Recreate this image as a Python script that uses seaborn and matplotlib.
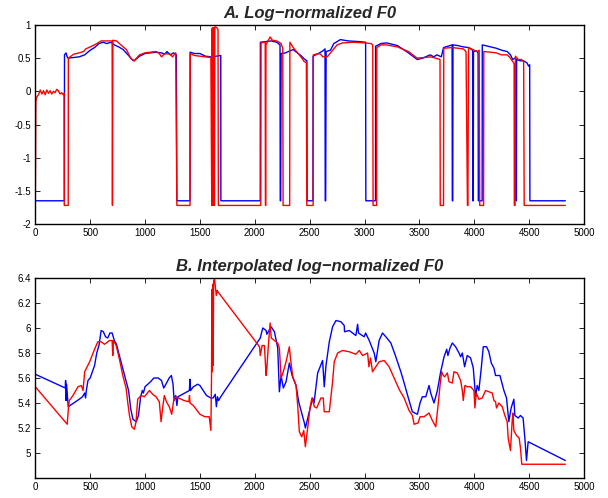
import matplotlib
matplotlib.use("Agg")
import matplotlib.pyplot as plt
import seaborn as sns

# ---------------- data ----------------
# Panel A: log-normalized F0, blue series
a_blue_x = [0, 265, 266, 280, 290, 300, 350, 400, 450, 500,
            540, 580, 620, 650, 690, 720, 760, 800, 850, 880,
            900, 950, 1000, 1050, 1100, 1150, 1180, 1200, 1230, 1260,
            1285, 1290, 1410, 1411, 1450, 1500, 1550, 1600, 1650, 1690,
            1691, 2050, 2051, 2100, 2150, 2200, 2230, 2232, 2236, 2240,
            2280, 2320, 2350, 2380, 2420, 2450, 2475, 2477, 2530, 2531,
            2580, 2620, 2640, 2642, 2646, 2650, 2690, 2720, 2780, 2850,
            2950, 3010, 3012, 3100, 3101, 3150, 3200, 3300, 3400, 3480,
            3530, 3570, 3600, 3630, 3660, 3700, 3720, 3780, 3798, 3800,
            3804, 3806, 3850, 3900, 3950, 3985, 3987, 3991, 3993, 4020,
            4035, 4037, 4072, 4073, 4100, 4150, 4200, 4250, 4300, 4330,
            4350, 4370, 4378, 4380, 4384, 4386, 4420, 4450, 4480, 4495,
            4505, 4507, 4830]
a_blue_y = [-1.65, -1.65, 0.55, 0.58, 0.52, 0.50, 0.51, 0.52, 0.55, 0.62,
            0.66, 0.72, 0.74, 0.72, 0.74, 0.70, 0.67, 0.63, 0.54, 0.48,
            0.46, 0.53, 0.57, 0.58, 0.59, 0.58, 0.56, 0.60, 0.55, 0.58,
            0.55, -1.65, -1.65, 0.59, 0.57, 0.57, 0.53, 0.52, 0.53, 0.54,
            -1.65, -1.65, 0.74, 0.75, 0.76, 0.74, 0.70, -1.65, -1.65, 0.57,
            0.58, 0.61, 0.63, 0.59, 0.54, 0.49, 0.46, -1.65, -1.65, 0.53,
            0.57, 0.61, 0.64, -1.65, -1.65, 0.60, 0.62, 0.72, 0.78, 0.76,
            0.75, 0.74, -1.65, -1.65, 0.68, 0.72, 0.73, 0.69, 0.58, 0.48,
            0.50, 0.53, 0.55, 0.52, 0.55, 0.52, 0.66, 0.69, 0.70, -1.65,
            -1.65, 0.70, 0.69, 0.67, 0.66, 0.62, -1.65, -1.65, 0.60, 0.61,
            0.58, -1.65, -1.65, 0.70, 0.69, 0.67, 0.65, 0.62, 0.60, 0.55,
            0.48, 0.50, 0.49, -1.65, -1.65, 0.48, 0.46, 0.46, 0.43, 0.38,
            0.40, -1.65, -1.65]

# Panel A: red series
a_red_x = [0, 5, 15, 30, 45, 60, 75, 90, 105, 120,
           135, 150, 165, 180, 195, 210, 225, 240, 255, 262,
           264, 300, 301, 350, 400, 440, 460, 500, 550, 600,
           650, 700, 703, 707, 740, 780, 830, 870, 900, 950,
           1000, 1050, 1100, 1130, 1150, 1180, 1230, 1250, 1280, 1290,
           1410, 1412, 1450, 1500, 1550, 1600, 1608, 1612, 1616, 1620,
           1624, 1628, 1632, 1636, 1640, 1655, 1665, 1668, 2055, 2057,
           2080, 2095, 2097, 2100, 2102, 2120, 2140, 2160, 2200, 2240,
           2255, 2258, 2318, 2320, 2350, 2380, 2420, 2450, 2470, 2474,
           2532, 2534, 2580, 2600, 2620, 2660, 2700, 2750, 2800, 2900,
           3000, 3060, 3075, 3078, 3110, 3112, 3150, 3200, 3300, 3400,
           3480, 3550, 3600, 3650, 3688, 3690, 3720, 3722, 3800, 3900,
           3925, 3938, 3942, 3948, 4000, 4030, 4045, 4050, 4085, 4087,
           4150, 4200, 4250, 4300, 4320, 4350, 4363, 4365, 4372, 4375,
           4400, 4430, 4450, 4455, 4830]
a_red_y = [-1.72, -0.15, -0.08, -0.05, 0.02, -0.04, 0.01, -0.05, 0.02, -0.03,
           0.01, -0.04, 0.00, -0.02, 0.03, 0.01, -0.04, -0.02, -0.05, -0.03,
           -1.72, -1.72, 0.50, 0.56, 0.58, 0.60, 0.64, 0.67, 0.71, 0.76,
           0.76, 0.76, -1.72, 0.77, 0.76, 0.70, 0.63, 0.50, 0.46, 0.55,
           0.58, 0.59, 0.60, 0.57, 0.52, 0.57, 0.56, 0.52, 0.58, -1.72,
           -1.72, 0.57, 0.54, 0.53, 0.52, 0.51, -1.72, 0.95, -1.72, 0.96,
           -1.72, 0.96, -1.72, 0.97, 0.97, 0.96, 0.93, -1.72, -1.72, 0.73,
           0.74, 0.74, -1.72, -1.72, 0.70, 0.76, 0.82, 0.77, 0.76, 0.72,
           0.65, -1.72, -1.72, 0.74, 0.66, 0.60, 0.52, 0.45, 0.43, -1.72,
           -1.72, 0.55, 0.57, 0.56, 0.52, 0.52, 0.60, 0.70, 0.73, 0.74,
           0.73, 0.72, 0.70, -1.72, -1.72, 0.66, 0.70, 0.70, 0.67, 0.60,
           0.50, 0.51, 0.52, 0.50, 0.48, -1.72, -1.72, 0.65, 0.66, 0.64,
           0.60, -1.72, -1.72, 0.66, 0.62, 0.60, 0.62, -1.72, -1.72, 0.60,
           0.59, 0.58, 0.55, 0.55, 0.52, 0.45, 0.42, -1.72, -1.72, 0.53,
           0.48, 0.48, 0.45, -1.72, -1.72]

# Panel B: interpolated log-normalized F0, blue series
b_blue_x = [0, 273, 276, 280, 285, 300, 350, 400, 430, 450,
            458, 465, 480, 500, 540, 560, 580, 600, 620, 640,
            660, 680, 700, 720, 740, 760, 790, 820, 850, 870,
            890, 920, 940, 960, 975, 985, 1000, 1050, 1080, 1120,
            1150, 1170, 1190, 1220, 1240, 1255, 1265, 1280, 1290, 1300,
            1404, 1410, 1415, 1440, 1480, 1500, 1530, 1560, 1600, 1620,
            1640, 1650, 1660, 1670, 1690, 2050, 2073, 2103, 2110, 2149,
            2179, 2209, 2224, 2240, 2260, 2285, 2315, 2340, 2376, 2400,
            2452, 2461, 2497, 2527, 2540, 2573, 2618, 2633, 2649, 2679,
            2709, 2740, 2785, 2815, 2818, 2861, 2921, 2937, 2945, 2997,
            3010, 3043, 3088, 3103, 3133, 3164, 3194, 3240, 3285, 3331,
            3361, 3406, 3436, 3482, 3506, 3527, 3558, 3588, 3603, 3633,
            3664, 3694, 3725, 3749, 3760, 3779, 3800, 3830, 3861, 3876,
            3891, 3912, 3936, 3967, 3991, 4012, 4027, 4042, 4064, 4082,
            4112, 4133, 4155, 4179, 4194, 4234, 4270, 4294, 4315, 4336,
            4361, 4370, 4400, 4421, 4445, 4461, 4476, 4491, 4830]
b_blue_y = [5.63, 5.52, 5.58, 5.42, 5.55, 5.37, 5.40, 5.43, 5.45, 5.48,
            5.44, 5.50, 5.58, 5.60, 5.70, 5.80, 5.86, 5.98, 5.97, 5.93,
            5.92, 5.96, 5.96, 5.90, 5.87, 5.80, 5.70, 5.60, 5.50, 5.35,
            5.27, 5.25, 5.30, 5.45, 5.50, 5.48, 5.53, 5.57, 5.60, 5.60,
            5.58, 5.52, 5.55, 5.60, 5.62, 5.55, 5.42, 5.46, 5.38, 5.45,
            5.50, 5.59, 5.50, 5.53, 5.55, 5.54, 5.50, 5.46, 5.44, 5.44,
            5.47, 5.37, 5.45, 5.42, 5.45, 5.92, 6.00, 5.98, 5.95, 6.01,
            5.97, 5.84, 5.49, 5.62, 5.52, 5.57, 5.72, 5.62, 5.54, 5.41,
            5.24, 5.20, 5.33, 5.44, 5.40, 5.64, 5.74, 5.53, 5.70, 5.89,
            6.01, 6.06, 6.05, 6.02, 5.97, 5.98, 5.94, 6.03, 5.96, 5.93,
            5.96, 5.90, 5.80, 5.73, 5.90, 5.96, 5.93, 5.88, 5.77, 5.65,
            5.56, 5.42, 5.33, 5.31, 5.40, 5.45, 5.45, 5.54, 5.48, 5.40,
            5.50, 5.65, 5.77, 5.83, 5.78, 5.84, 5.88, 5.85, 5.80, 5.77,
            5.80, 5.69, 5.78, 5.76, 5.68, 5.45, 5.54, 5.50, 5.68, 5.85,
            5.85, 5.81, 5.72, 5.68, 5.62, 5.62, 5.50, 5.44, 5.25, 5.36,
            5.43, 5.30, 5.28, 5.30, 5.28, 5.12, 4.94, 5.09, 4.94]

# Panel B: red series
b_red_x = [0, 291, 303, 310, 343, 389, 420, 435, 450, 495,
           540, 570, 600, 631, 676, 700, 706, 712, 737, 767,
           797, 827, 843, 858, 879, 903, 918, 933, 964, 994,
           1040, 1070, 1100, 1130, 1146, 1160, 1176, 1195, 1221, 1243,
           1261, 1280, 1355, 1400, 1405, 1410, 1440, 1500, 1546, 1585,
           1600, 1606, 1609, 1613, 1617, 1621, 1625, 1634, 1649, 1658,
           1664, 2043, 2050, 2067, 2088, 2103, 2110, 2127, 2140, 2150,
           2179, 2209, 2224, 2240, 2260, 2285, 2315, 2325, 2346, 2376,
           2391, 2406, 2428, 2446, 2461, 2482, 2503, 2521, 2543, 2564,
           2603, 2624, 2633, 2679, 2709, 2724, 2755, 2800, 2861, 2921,
           2952, 2982, 3028, 3040, 3055, 3073, 3103, 3133, 3179, 3224,
           3270, 3315, 3361, 3406, 3436, 3452, 3488, 3506, 3542, 3588,
           3618, 3649, 3670, 3688, 3703, 3718, 3730, 3755, 3770, 3800,
           3815, 3846, 3876, 3891, 3900, 3915, 3936, 3967, 3997, 4006,
           4018, 4042, 4073, 4103, 4133, 4164, 4179, 4194, 4203, 4224,
           4255, 4279, 4300, 4309, 4330, 4345, 4352, 4361, 4385, 4409,
           4421, 4433, 4830]
b_red_y = [5.53, 5.23, 5.37, 5.42, 5.46, 5.53, 5.54, 5.50, 5.65, 5.73,
           5.83, 5.89, 5.89, 5.87, 5.90, 5.90, 5.78, 5.90, 5.86, 5.75,
           5.62, 5.52, 5.40, 5.30, 5.21, 5.19, 5.25, 5.43, 5.46, 5.45,
           5.50, 5.47, 5.45, 5.41, 5.25, 5.36, 5.46, 5.41, 5.37, 5.31,
           5.42, 5.45, 5.42, 5.41, 5.46, 5.40, 5.38, 5.31, 5.29, 5.29,
           5.18, 5.62, 6.31, 5.65, 6.35, 5.70, 6.38, 6.39, 6.26, 6.30,
           6.29, 5.85, 5.78, 5.86, 5.86, 5.62, 5.68, 5.90, 6.04, 5.92,
           5.90, 5.88, 5.84, 5.60, 5.65, 5.73, 5.85, 5.76, 5.61, 5.54,
           5.38, 5.17, 5.13, 5.18, 5.05, 5.20, 5.36, 5.44, 5.37, 5.36,
           5.44, 5.44, 5.33, 5.33, 5.57, 5.73, 5.80, 5.82, 5.81, 5.79,
           5.82, 5.78, 5.80, 5.69, 5.76, 5.65, 5.69, 5.73, 5.74, 5.69,
           5.60, 5.51, 5.44, 5.34, 5.30, 5.23, 5.24, 5.29, 5.29, 5.32,
           5.26, 5.21, 5.38, 5.54, 5.65, 5.62, 5.61, 5.64, 5.57, 5.56,
           5.65, 5.64, 5.58, 5.50, 5.42, 5.54, 5.53, 5.53, 5.50, 5.36,
           5.48, 5.43, 5.44, 5.50, 5.49, 5.48, 5.42, 5.41, 5.36, 5.40,
           5.37, 5.30, 5.25, 5.12, 5.02, 5.25, 5.32, 5.18, 5.14, 5.12,
           5.04, 4.91, 4.91]

x_ticks = [0, 500, 1000, 1500, 2000, 2500, 3000, 3500, 4000, 4500, 5000]
a_yticks = [-2, -1.5, -1, -0.5, 0, 0.5, 1]
a_ylabels = ["-2", "-1.5", "-1", "-0.5", "0", "0.5", "1"]
b_yticks = [5, 5.2, 5.4, 5.6, 5.8, 6, 6.2, 6.4]
b_ylabels = ["5", "5.2", "5.4", "5.6", "5.8", "6", "6.2", "6.4"]
title_a = "A. Log\u2212normalized F0"
title_b = "B. Interpolated log\u2212normalized F0"

# ---------------- drawing ----------------
sns.set_style("white")
plt.rcParams["font.family"] = ["Liberation Sans", "DejaVu Sans"]

W, H = 608, 498
fig = plt.figure(figsize=(W / 100, H / 100), dpi=100)
left, right = 35.3, 584.0
axA = fig.add_axes([left / W, 1 - 224 / H, (right - left) / W, (224 - 25) / H])
axB = fig.add_axes([left / W, 1 - 478 / H, (right - left) / W, (478 - 278) / H])

lw = 1.0
sns.lineplot(x=a_blue_x, y=a_blue_y, ax=axA, color="#0000ff", lw=lw,
             sort=False, estimator=None)
sns.lineplot(x=a_red_x, y=a_red_y, ax=axA, color="#ff0000", lw=lw,
             sort=False, estimator=None)
sns.lineplot(x=b_blue_x, y=b_blue_y, ax=axB, color="#0000ff", lw=lw,
             sort=False, estimator=None)
sns.lineplot(x=b_red_x, y=b_red_y, ax=axB, color="#ff0000", lw=lw,
             sort=False, estimator=None)

for ax, yt, yl, ylim, title in [(axA, a_yticks, a_ylabels, (-2, 1), title_a),
                                (axB, b_yticks, b_ylabels, (4.8, 6.4), title_b)]:
    ax.set_xlim(0, 5000)
    ax.set_ylim(*ylim)
    ax.set_xticks(x_ticks)
    ax.set_xticklabels([str(t) for t in x_ticks])
    ax.set_yticks(yt)
    ax.set_yticklabels(yl)
    ax.tick_params(direction="in", length=3.5, width=0.6, top=True, right=True,
                   bottom=True, left=True, labelsize=7, colors="black",
                   pad=3)
    for s in ax.spines.values():
        s.set_visible(True)
        s.set_color("black")
        s.set_linewidth(1.0)
    ax.set_xlabel("")
    ax.set_ylabel("")
    ax.set_title(title, fontsize=12, fontweight="bold", fontstyle="italic",
                 pad=5)

fig.savefig("out.png", dpi=100, facecolor="white")
